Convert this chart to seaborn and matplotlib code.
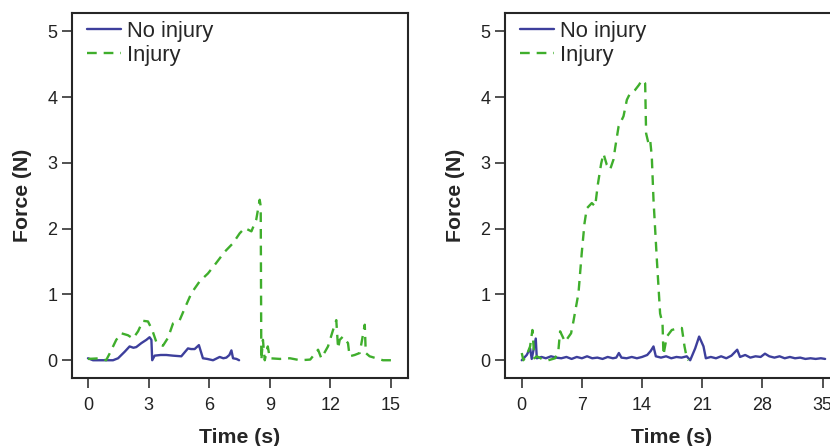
import numpy as np
import pandas as pd
import matplotlib
matplotlib.use("Agg")
import matplotlib.pyplot as plt
import seaborn as sns

# ── values ─────────────────────────────────────────────────────────────────
# left panel
left_none_t = [0.0, 0.25, 0.8, 1.24, 1.49, 1.82, 2.06, 2.25, 2.39, 2.64, 2.89, 3.05,
               3.14, 3.18, 3.3, 3.6, 3.88, 4.2, 4.62, 4.95, 5.1, 5.28, 5.49, 5.69,
               5.9, 6.19, 6.52, 6.7, 6.85, 7.0, 7.1, 7.18, 7.35, 7.48]
left_none_f = [0.03, 0.0, 0.0, 0.0, 0.03, 0.13, 0.21, 0.19, 0.2, 0.26, 0.31, 0.35,
               0.31, 0.0, 0.07, 0.08, 0.08, 0.07, 0.06, 0.18, 0.17, 0.17, 0.23, 0.03,
               0.02, 0.0, 0.05, 0.03, 0.04, 0.08, 0.15, 0.03, 0.02, 0.0]

left_inj_t = [0.0, 0.6, 0.9, 1.07, 1.4, 1.65, 1.98, 2.23, 2.48, 2.72, 2.97, 3.18,
              3.38, 3.71, 3.96, 4.21, 4.54, 4.79, 5.12, 5.53, 5.94, 6.35, 6.77,
              7.18, 7.51, 7.76, 8.09, 8.33, 8.5, 8.55, 8.58, 8.66, 8.75, 8.9, 9.0,
              9.5, 10.0, 10.5, 11.0, 11.39, 11.55, 11.88, 12.13, 12.29, 12.38,
              12.46, 12.62, 12.87, 12.95, 13.2, 13.45, 13.7, 13.75, 13.94, 14.27,
              14.6, 15.0]
left_inj_f = [0.02, 0.03, 0.0, 0.1, 0.31, 0.41, 0.38, 0.33, 0.44, 0.6, 0.59, 0.46,
              0.28, 0.22, 0.34, 0.56, 0.61, 0.79, 1.02, 1.2, 1.32, 1.48, 1.65,
              1.78, 1.93, 2.01, 1.96, 2.14, 2.44, 2.34, 0.0, 0.31, 0.0, 0.21, 0.03,
              0.02, 0.03, 0.0, 0.01, 0.16, 0.03, 0.21, 0.46, 0.61, 0.18,
              0.31, 0.36, 0.26, 0.06, 0.08, 0.11, 0.54, 0.11, 0.06, 0.03,
              0.0, 0.0]

# right panel
right_none_t = [0.0, 0.58, 0.97, 1.16, 1.63, 1.75, 2.3, 2.8, 3.4, 4.0, 4.6, 5.2,
                5.8, 6.4, 7.0, 7.6, 8.2, 8.8, 9.4, 10.0, 10.6, 11.0, 11.3, 11.6,
                12.2, 12.8, 13.4, 14.0, 14.6, 15.0, 15.33, 15.6, 16.2, 16.8, 17.4,
                18.0, 18.6, 19.2, 19.6, 20.18, 20.64, 21.15, 21.42, 22.0, 22.6,
                23.2, 23.8, 24.4, 25.07, 25.4, 26.0, 26.6, 27.2, 27.8, 28.3, 28.8,
                29.4, 30.0, 30.6, 31.2, 31.8, 32.4, 33.0, 33.6, 34.2, 34.8, 35.3]
right_none_f = [0.0, 0.08, 0.18, 0.02, 0.33, 0.03, 0.05, 0.03, 0.06, 0.04, 0.03, 0.05,
                0.02, 0.05, 0.03, 0.06, 0.03, 0.04, 0.02, 0.05, 0.03, 0.04, 0.11, 0.04,
                0.03, 0.05, 0.03, 0.05, 0.08, 0.14, 0.21, 0.06, 0.04, 0.06, 0.03,
                0.05, 0.04, 0.06, 0.0, 0.18, 0.36, 0.21, 0.03, 0.05, 0.03,
                0.06, 0.03, 0.07, 0.16, 0.05, 0.08, 0.04, 0.06, 0.05, 0.1, 0.06,
                0.04, 0.06, 0.03, 0.05, 0.03, 0.04, 0.02, 0.03, 0.02, 0.03, 0.02]

right_inj_t = [0.0, 0.19, 0.58, 0.97, 1.24, 1.47, 1.75, 2.33, 3.1, 3.88, 4.27, 4.46,
               5.04, 5.74, 6.01, 6.6, 6.98, 7.3, 7.57, 8.15, 8.54, 8.85, 9.24, 9.51,
               9.9, 10.28, 10.67, 10.87, 11.26, 11.84, 12.23, 12.61, 13.19, 13.66,
               13.97, 14.36, 14.47, 14.74, 14.94, 15.13, 15.33, 15.72, 16.1, 16.38,
               16.49, 16.88, 17.46, 18.24, 18.63, 18.94, 19.21, 19.4]
right_inj_f = [0.11, 0.0, 0.08, 0.21, 0.46, 0.03, 0.06, 0.02, 0.0, 0.03, 0.16, 0.44,
               0.28, 0.41, 0.59, 1.02, 1.63, 2.08, 2.31, 2.39, 2.34, 2.67, 2.99, 3.14,
               2.97, 2.9, 3.05, 3.23, 3.55, 3.71, 3.96, 4.06, 4.11, 4.19,
               4.26, 4.21, 3.45, 3.3, 3.35, 3.1, 2.44, 1.53, 0.71, 0.56,
               0.08, 0.36, 0.46, 0.49, 0.49, 0.21, 0.03, 0.0]

x_ticks_left = [0, 3, 6, 9, 12, 15]
x_ticks_right = [0, 7, 14, 21, 28, 35]
y_ticks = [0, 1, 2, 3, 4, 5]

# ── style ──────────────────────────────────────────────────────────────────
sns.set_style("ticks")
plt.rcParams['font.family'] = ['Liberation Sans', 'DejaVu Sans']
plt.rcParams['lines.scale_dashes'] = False

BLUE = '#3d3f9c'
GREEN = '#3fae2c'


def make_df(t_none, f_none, t_inj, f_inj):
    a = pd.DataFrame({'t': t_none, 'f': f_none, 'group': 'No injury'})
    b = pd.DataFrame({'t': t_inj, 'f': f_inj, 'group': 'Injury'})
    return pd.concat([a, b], ignore_index=True)


fig = plt.figure(figsize=(8.3, 4.46), dpi=100)
ax_l = fig.add_axes([72 / 830, 68 / 446, 336 / 830, 365 / 446])
ax_r = fig.add_axes([505 / 830, 68 / 446, 333 / 830, 365 / 446])

panels = [
    (ax_l, make_df(left_none_t, left_none_f, left_inj_t, left_inj_f),
     x_ticks_left, (-0.79, 15.84)),
    (ax_r, make_df(right_none_t, right_none_f, right_inj_t, right_inj_f),
     x_ticks_right, (-1.95, 36.8)),
]

for ax, df, xt, xlim in panels:
    sns.lineplot(data=df, x='t', y='f', hue='group', style='group',
                 palette={'No injury': BLUE, 'Injury': GREEN},
                 dashes={'No injury': '', 'Injury': (7, 5)},
                 estimator=None, sort=False, linewidth=1.7, ax=ax)
    ax.set_xlim(*xlim)
    ax.set_ylim(-0.27, 5.28)
    ax.set_xticks(xt)
    ax.set_yticks(y_ticks)
    for s in ax.spines.values():
        s.set_linewidth(1.5)
    ax.tick_params(direction='out', length=7.5, width=1.1, labelsize=13,
                   color='#222222', labelcolor='#222222')
    ax.tick_params(axis='x', pad=6.5)
    ax.tick_params(axis='y', pad=3)
    ax.set_xlabel('Time (s)', fontsize=15.3, fontweight='bold', labelpad=10)
    ax.set_ylabel('Force (N)', fontsize=15.3, fontweight='bold', labelpad=11)
    ax.legend(loc='upper left', bbox_to_anchor=(0.0, 1.02), frameon=False,
              fontsize=15.8, handlelength=1.55, handletextpad=0.25,
              labelspacing=0.14, borderaxespad=0.3)
    ax.grid(False)

fig.savefig('out.png', dpi=100)
